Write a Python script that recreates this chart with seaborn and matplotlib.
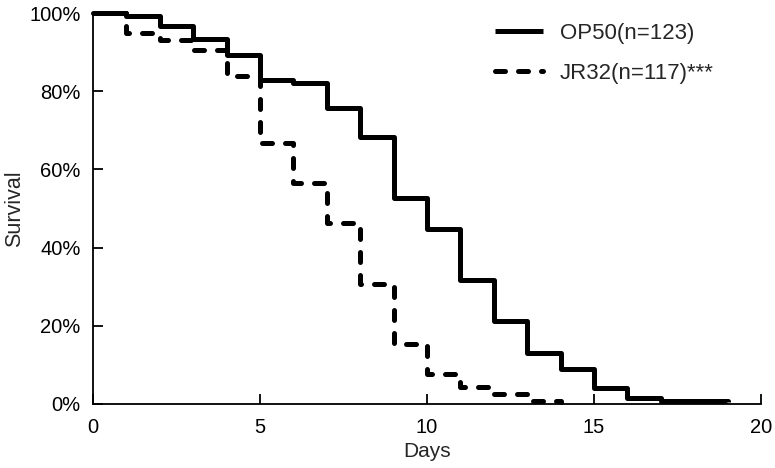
import matplotlib
matplotlib.use("Agg")
import matplotlib.pyplot as plt
import seaborn as sns
import pandas as pd


# Datos de supervivencia (porcentaje por dia)
dias_op50 = [0, 1, 2, 3, 4, 5, 6, 7, 8, 9, 10, 11, 12, 13, 14, 15, 16, 17, 18, 19]
surv_op50 = [100, 99.2, 96.7, 93.5, 89.4, 82.9, 82.1, 75.6, 68.3, 52.8,
             44.7, 31.7, 21.1, 13.0, 8.9, 4.1, 1.6, 0.8, 0.8, 0.4]

dias_jr32 = [0, 1, 2, 3, 4, 5, 6, 7, 8, 9, 10, 11, 12, 13, 14]
surv_jr32 = [100, 94.9, 93.2, 90.6, 83.8, 66.7, 56.4, 46.2, 30.8, 15.4,
             7.7, 4.3, 2.6, 0.85, 0.4]

etiquetas = ["OP50(n=123)", "JR32(n=117)***"]
x_ticks = [0, 5, 10, 15, 20]
y_ticks = [0, 20, 40, 60, 80, 100]
y_labels = ["0%", "20%", "40%", "60%", "80%", "100%"]

sns.set_style("ticks")
plt.rcParams["font.family"] = ["Liberation Sans", "DejaVu Sans"]

df_op50 = pd.DataFrame({"Days": dias_op50, "Survival": surv_op50})
df_jr32 = pd.DataFrame({"Days": dias_jr32, "Survival": surv_jr32})

fig = plt.figure(figsize=(7.75, 4.68), dpi=100)
ax = fig.add_axes([0.12, 0.137, 0.862, 0.835])

sns.lineplot(data=df_op50, x="Days", y="Survival", ax=ax, color="black",
             linewidth=3.6, drawstyle="steps-post", label=etiquetas[0],
             solid_capstyle="butt", clip_on=False)
sns.lineplot(data=df_jr32, x="Days", y="Survival", ax=ax, color="black",
             linewidth=3.6, drawstyle="steps-post", label=etiquetas[1],
             linestyle=(0, (2.0, 2.6)), dash_capstyle="round", clip_on=False)

ax.set_xlim(0, 20)
ax.set_ylim(0, 100)
ax.set_xticks(x_ticks)
ax.set_yticks(y_ticks)
ax.set_yticklabels(y_labels)
ax.tick_params(direction="in", length=7, width=1.3, labelsize=14.5, colors="black")
ax.tick_params(axis="x", pad=10)
ax.tick_params(axis="y", pad=9)
ax.set_xlabel("Days", fontsize=15, labelpad=4)
ax.set_ylabel("Survival", fontsize=15.5)
ax.yaxis.set_label_coords(-0.102, 0.5)

sns.despine(ax=ax)
for s in ["left", "bottom"]:
    ax.spines[s].set_linewidth(1.3)
    ax.spines[s].set_color("black")

leg = ax.legend(loc="upper left", frameon=False, fontsize=16,
                handlelength=2.15, labelspacing=0.85, handletextpad=0.75,
                borderpad=0, borderaxespad=0,
                bbox_to_anchor=(0.602, 0.975))

fig.savefig("out.png", dpi=100)
